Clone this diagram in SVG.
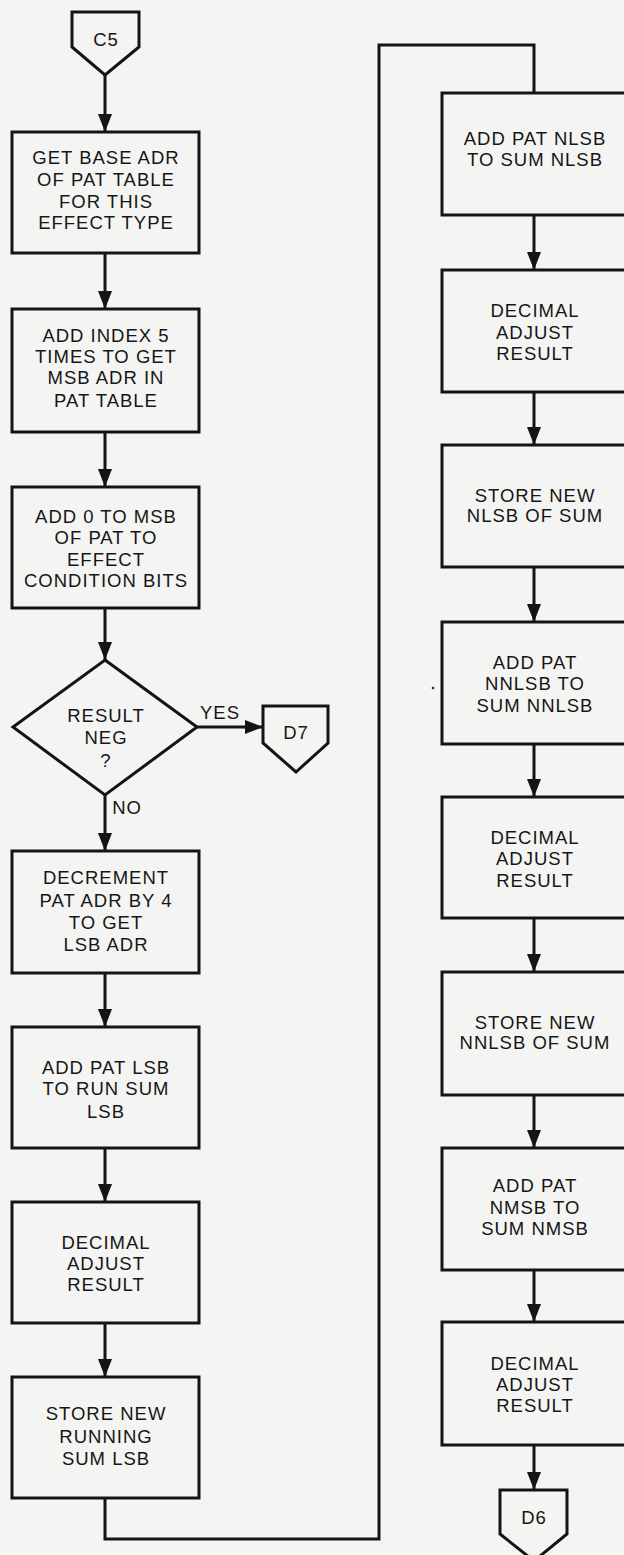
<svg xmlns="http://www.w3.org/2000/svg" width="624" height="1555" viewBox="0 0 624 1555">
  <style>
    .shape { fill: none; stroke: #141414; stroke-width: 3; stroke-linejoin: miter; }
    .wire { fill: none; stroke: #141414; stroke-width: 3; }
    .flow { marker-end: url(#head); }
    text { font-family: "Liberation Sans", Arial, sans-serif; font-size: 18.5px; letter-spacing: 1px; fill: #161616; text-anchor: middle; }
  </style>
  <defs>
    <marker id="head" markerUnits="userSpaceOnUse" markerWidth="18" markerHeight="14" viewBox="0 0 18 14" refX="18" refY="7" orient="auto">
      <path d="M0,0 L18,7 L0,14 Z" fill="#141414"/>
    </marker>
  </defs>
  <rect x="0" y="0" width="624" height="1555" fill="#f4f4f2"/>

  <!-- connectors -->
  <g id="connectors">
    <line class="wire flow" x1="105" y1="75" x2="105" y2="132"/>
    <line class="wire flow" x1="105" y1="253" x2="105" y2="309"/>
    <line class="wire flow" x1="105" y1="432" x2="105" y2="487"/>
    <line class="wire flow" x1="105" y1="608" x2="105" y2="660"/>
    <line class="wire flow" x1="197" y1="727" x2="263" y2="727"/>
    <line class="wire flow" x1="105" y1="795" x2="105" y2="851"/>
    <line class="wire flow" x1="105" y1="973" x2="105" y2="1027"/>
    <line class="wire flow" x1="105" y1="1148" x2="105" y2="1202"/>
    <line class="wire flow" x1="105" y1="1323" x2="105" y2="1377"/>
    <polyline class="wire" points="105,1498 105,1539 379,1539 379,45 534,45 534,93"/>
    <line class="wire flow" x1="534" y1="215" x2="534" y2="270"/>
    <line class="wire flow" x1="534" y1="392" x2="534" y2="445"/>
    <line class="wire flow" x1="534" y1="567" x2="534" y2="622"/>
    <line class="wire flow" x1="534" y1="744" x2="534" y2="797"/>
    <line class="wire flow" x1="534" y1="918" x2="534" y2="972"/>
    <line class="wire flow" x1="534" y1="1095" x2="534" y2="1148"/>
    <line class="wire flow" x1="534" y1="1270" x2="534" y2="1322"/>
    <line class="wire flow" x1="534" y1="1445" x2="534" y2="1490"/>
    <text x="220" y="719">YES</text>
    <text x="127" y="814">NO</text>
  </g>

  <!-- off-page connectors -->
  <g id="c5">
    <polygon class="shape" points="72,12 139,12 139,47 105,75 72,47"/>
    <text x="106" y="46">C5</text>
  </g>
  <g id="d7">
    <polygon class="shape" points="263,706 328,706 328,743 296,772 263,743"/>
    <text x="296" y="739">D7</text>
  </g>
  <g id="d6">
    <polygon class="shape" points="500,1490 567,1490 567,1534 534,1561 500,1534"/>
    <text x="534" y="1524">D6</text>
  </g>

  <!-- left column -->
  <g id="base-adr">
    <rect class="shape" x="12" y="132" width="187" height="121"/>
    <text x="106" y="164">GET BASE ADR</text>
    <text x="106" y="186">OF PAT TABLE</text>
    <text x="106" y="208">FOR THIS</text>
    <text x="106" y="229">EFFECT TYPE</text>
  </g>
  <g id="add-index">
    <rect class="shape" x="12" y="309" width="187" height="123"/>
    <text x="106" y="342">ADD INDEX 5</text>
    <text x="106" y="363">TIMES TO GET</text>
    <text x="106" y="384">MSB ADR IN</text>
    <text x="106" y="407">PAT TABLE</text>
  </g>
  <g id="add-zero">
    <rect class="shape" x="12" y="487" width="187" height="121"/>
    <text x="106" y="523">ADD 0 TO MSB</text>
    <text x="106" y="544">OF PAT TO</text>
    <text x="106" y="566">EFFECT</text>
    <text x="106" y="587">CONDITION BITS</text>
  </g>
  <g id="result-neg">
    <polygon class="shape" points="105,660 197,727 105,795 13,727"/>
    <text x="106" y="722">RESULT</text>
    <text x="106" y="744">NEG</text>
    <text x="106" y="767">?</text>
  </g>
  <g id="decrement">
    <rect class="shape" x="12" y="851" width="187" height="122"/>
    <text x="106" y="884">DECREMENT</text>
    <text x="106" y="907">PAT ADR BY 4</text>
    <text x="106" y="929">TO GET</text>
    <text x="106" y="951">LSB ADR</text>
  </g>
  <g id="add-lsb">
    <rect class="shape" x="12" y="1027" width="187" height="121"/>
    <text x="106" y="1074">ADD PAT LSB</text>
    <text x="106" y="1095">TO RUN SUM</text>
    <text x="106" y="1118">LSB</text>
  </g>
  <g id="adjust-1">
    <rect class="shape" x="12" y="1202" width="187" height="121"/>
    <text x="106" y="1249">DECIMAL</text>
    <text x="106" y="1270">ADJUST</text>
    <text x="106" y="1291">RESULT</text>
  </g>
  <g id="store-lsb">
    <rect class="shape" x="12" y="1377" width="187" height="121"/>
    <text x="106" y="1420">STORE NEW</text>
    <text x="106" y="1443">RUNNING</text>
    <text x="106" y="1465">SUM LSB</text>
  </g>

  <!-- right column -->
  <g id="add-nlsb">
    <rect class="shape" x="442" y="93" width="190" height="122"/>
    <text x="535" y="145">ADD PAT NLSB</text>
    <text x="535" y="166">TO SUM NLSB</text>
  </g>
  <g id="adjust-2">
    <rect class="shape" x="442" y="270" width="190" height="122"/>
    <text x="535" y="317">DECIMAL</text>
    <text x="535" y="339">ADJUST</text>
    <text x="535" y="360">RESULT</text>
  </g>
  <g id="store-nlsb">
    <rect class="shape" x="442" y="445" width="190" height="122"/>
    <text x="535" y="502">STORE NEW</text>
    <text x="535" y="522">NLSB OF SUM</text>
  </g>
  <g id="add-nnlsb">
    <rect class="shape" x="442" y="622" width="190" height="122"/>
    <text x="535" y="669">ADD PAT</text>
    <text x="535" y="690">NNLSB TO</text>
    <text x="535" y="712">SUM NNLSB</text>
    <circle cx="433" cy="688" r="1.3" fill="#222"/>
  </g>
  <g id="adjust-3">
    <rect class="shape" x="442" y="797" width="190" height="121"/>
    <text x="535" y="844">DECIMAL</text>
    <text x="535" y="865">ADJUST</text>
    <text x="535" y="887">RESULT</text>
  </g>
  <g id="store-nnlsb">
    <rect class="shape" x="442" y="972" width="190" height="123"/>
    <text x="535" y="1029">STORE NEW</text>
    <text x="535" y="1049">NNLSB OF SUM</text>
  </g>
  <g id="add-nmsb">
    <rect class="shape" x="442" y="1148" width="190" height="122"/>
    <text x="535" y="1192">ADD PAT</text>
    <text x="535" y="1214">NMSB TO</text>
    <text x="535" y="1235">SUM NMSB</text>
  </g>
  <g id="adjust-4">
    <rect class="shape" x="442" y="1322" width="190" height="123"/>
    <text x="535" y="1370">DECIMAL</text>
    <text x="535" y="1391">ADJUST</text>
    <text x="535" y="1412">RESULT</text>
  </g>
</svg>
